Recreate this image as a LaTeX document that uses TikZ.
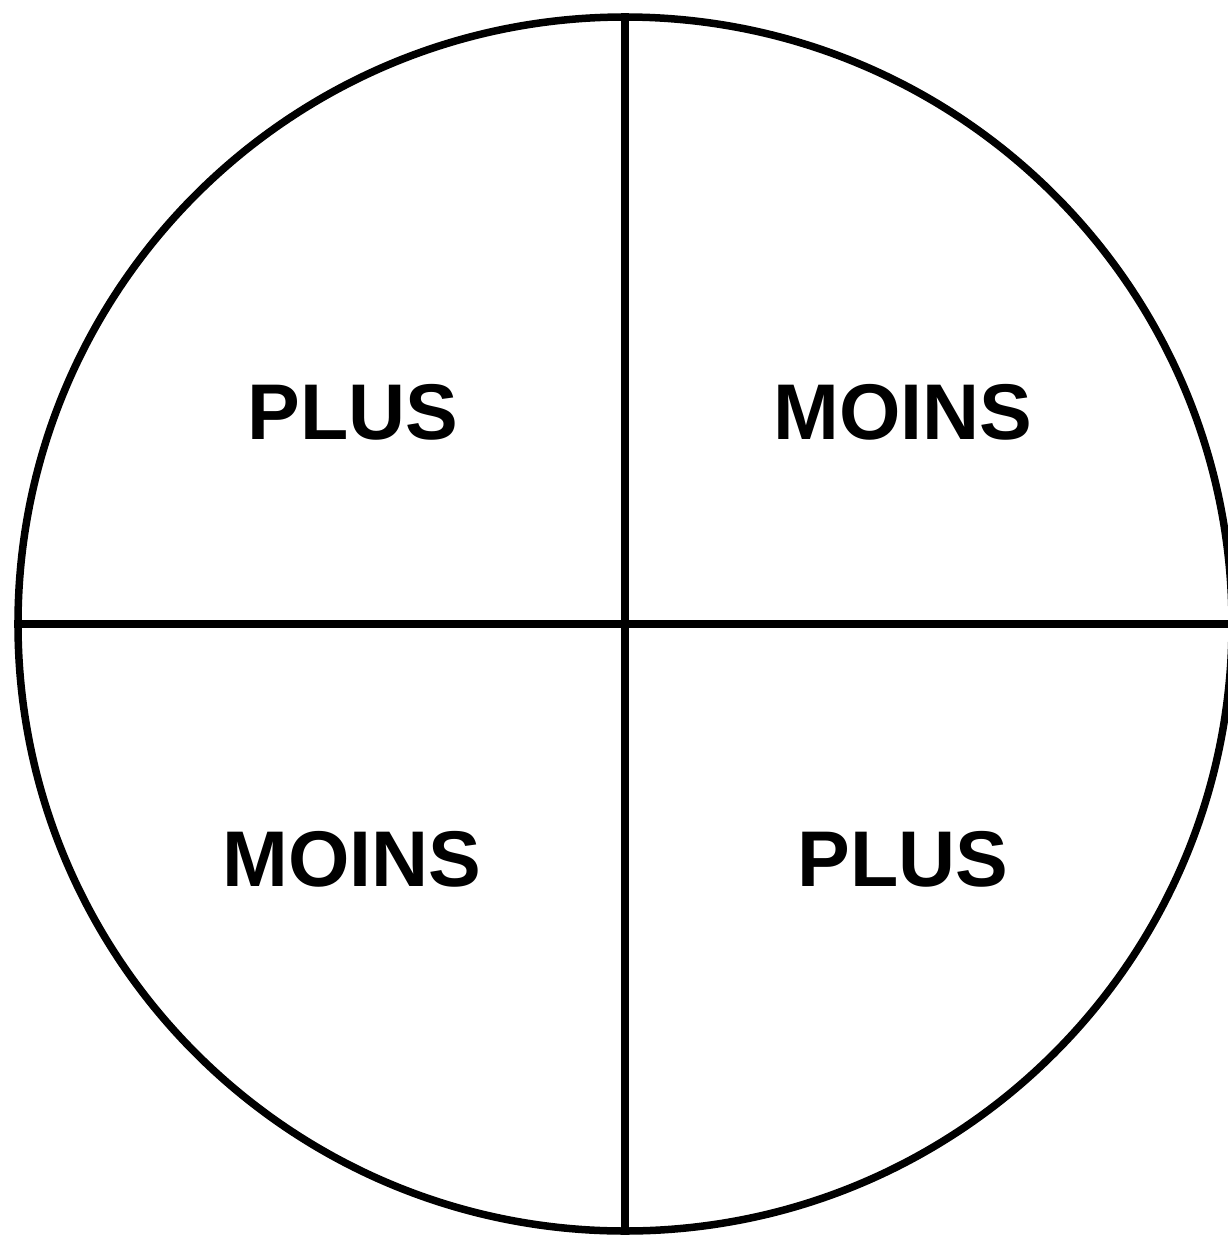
\documentclass[tikz,border=0pt]{standalone}
\usepackage{fontspec}
\setmainfont{Liberation Sans}
\begin{document}
\begin{tikzpicture}[x=1pt,y=-1pt,
  ring/.style={circle,draw=black,line width=7.5pt,minimum size=1214pt,inner sep=0pt},
  divider/.style={draw=black,line width=7.5pt},
  label/.style={font=\fontsize{79}{95}\selectfont\bfseries,anchor=base,inner sep=0pt}]
\useasboundingbox (0,0) rectangle (1228,1235);
\clip (0,0) rectangle (1228,1235);
\fill[white] (0,0) rectangle (1228,1235);
\node[ring] (c) at (625,624) {};
\draw[divider] (c.north) -- (c.south);
\draw[divider] (c.west) -- (c.east);
\node[label] (tl) at (353,439) {PLUS};
\node[label] (tr) at (903,439) {MOINS};
\node[label] (bl) at (352,886) {MOINS};
\node[label] (br) at (903,886) {PLUS};
\end{tikzpicture}
\end{document}
